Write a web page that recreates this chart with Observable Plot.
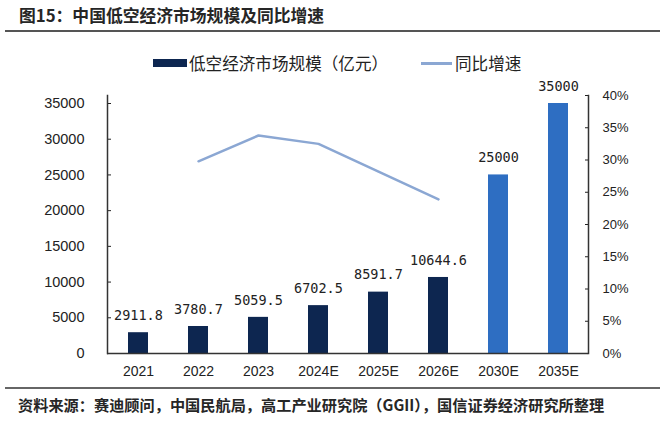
<!DOCTYPE html>
<html>
<head>
<meta charset="utf-8">
<script src="https://cdn.jsdelivr.net/npm/d3@7"></script>
<script src="https://cdn.jsdelivr.net/npm/@observablehq/plot@0.6"></script>
<style>
  html, body { margin: 0; padding: 0; background: #fff; }
  body { width: 660px; height: 423px; position: relative; overflow: hidden;
         font-family: "Noto Sans CJK SC", "Liberation Sans", sans-serif; color: #222; }
  #title { position: absolute; left: 19px; top: 3px; font-size: 16.8px; font-weight: bold; line-height: 24px; color: #262626; }
  #rule1 { position: absolute; left: 5px; right: 0; top: 30px; height: 2px; background: #555; }
  #legend { position: absolute; left: 0; top: 52px; height: 22px; width: 660px; font-size: 16.6px; line-height: 22px; }
  #legend .sw1 { position: absolute; left: 153px; top: 7px; width: 34px; height: 8px; background: #0d2650; }
  #legend .t1 { position: absolute; left: 189px; top: 0; }
  #legend .sw2 { position: absolute; left: 421px; top: 10px; width: 31px; height: 2.5px; background: #8ba7d3; }
  #legend .t2 { position: absolute; left: 455px; top: 0; }
  #chart { position: absolute; left: 0; top: 70px; }
  #rule2 { position: absolute; left: 5px; right: 0; top: 387px; height: 2px; background: #666; }
  #source { position: absolute; left: 18px; top: 394px; font-size: 15.2px; font-weight: bold; line-height: 20px; color: #262626; white-space: nowrap; }
</style>
</head>
<body>
<div id="title">图15：中国低空经济市场规模及同比增速</div>
<div id="rule1"></div>
<div id="legend">
  <div class="sw1"></div><div class="t1">低空经济市场规模（亿元）</div>
  <div class="sw2"></div><div class="t2">同比增速</div>
</div>
<div id="chart"></div>
<div id="rule2"></div>
<div id="source">资料来源：赛迪顾问，中国民航局，高工产业研究院（GGII），国信证券经济研究所整理</div>
<script>
// ---- data ----
const years = ["2021", "2022", "2023", "2024E", "2025E", "2026E", "2030E", "2035E"];
const marketSize = [2911.8, 3780.7, 5059.5, 6702.5, 8591.7, 10644.6, 25000, 35000];
const longTermYears = ["2030E", "2035E"];
const growthYears = ["2022", "2023", "2024E", "2025E", "2026E"];
const growthPct = [29.8, 33.8, 32.5, 28.2, 23.9];
const leftTicks = [0, 5000, 10000, 15000, 20000, 25000, 30000, 35000];
const rightTicks = [0, 5, 10, 15, 20, 25, 30, 35, 40];

// ---- derived tables ----
const bars = years.map((y, i) => ({year: y, value: marketSize[i], longTerm: longTermYears.includes(y)}));
// right axis (0–40%) shares the plot height; its top sits slightly above the left axis top (35000)
const pctMax = 40;
const yMax = 36120;               // value on the left scale that lines up with 40% on the right
const toLeft = p => p / pctMax * yMax;
const growth = growthYears.map((y, i) => ({year: y, pct: growthPct[i], yv: toLeft(growthPct[i])}));

const fmt = d => (d % 1 ? d.toFixed(1) : String(d));

const chart = Plot.plot({
  width: 660,
  height: 310,
  marginLeft: 107,
  marginRight: 72,
  marginTop: 25,
  marginBottom: 27,
  style: {fontFamily: "'Liberation Sans', Arial, sans-serif", color: "#222", background: "transparent", overflow: "visible"},
  x: {domain: years, paddingInner: 0.667, paddingOuter: 0.333, label: null},
  y: {domain: [0, yMax], label: null},
  marks: [
    Plot.barY(bars, {x: "year", y: "value", fill: d => d.longTerm ? "#2e6ec2" : "#0d2650"}),
    Plot.text(bars, {x: "year", y: "value", text: d => fmt(d.value), dy: -17,
      fontFamily: "'DejaVu Sans Mono', monospace", fontSize: 13.5, fill: "#222"}),
    Plot.lineY(growth, {x: "year", y: "yv", stroke: "#8ba7d3", strokeWidth: 2.5}),
    Plot.axisY(leftTicks, {anchor: "left", tickSize: -4, tickPadding: 27, fontSize: 14.5, label: null, tickFormat: d => String(d)}),
    Plot.axisY(rightTicks.map(toLeft), {anchor: "right", tickSize: -4, tickPadding: 18, fontSize: 13, label: null,
      tickFormat: d => Math.round(d / yMax * pctMax) + "%", textAnchor: "start"}),
    Plot.axisX({anchor: "bottom", tickSize: 0, tickPadding: 13, fontSize: 14, label: null}),
    Plot.frame({anchor: "left", stroke: "#333", strokeWidth: 1.5}),
    Plot.frame({anchor: "right", stroke: "#333", strokeWidth: 1.5}),
    Plot.ruleY([0], {stroke: "#333", strokeWidth: 1.5})
  ]
});
document.getElementById("chart").appendChild(chart);
</script>
</body>
</html>
